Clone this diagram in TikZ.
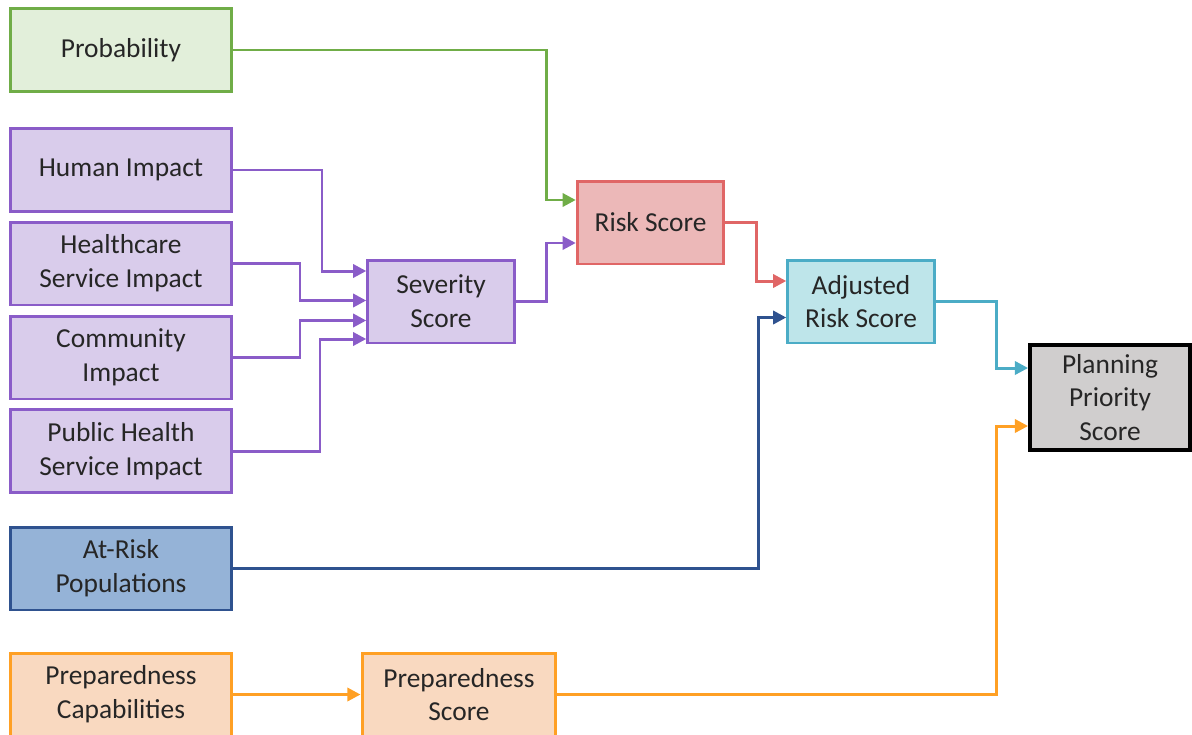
\documentclass[tikz,border=0pt]{standalone}
\usepackage{fontspec}
\setmainfont{Carlito}
\usetikzlibrary{arrows.meta}

\definecolor{txt}{HTML}{262626}
\definecolor{grnF}{HTML}{E2EFDA}\definecolor{grnD}{HTML}{70AD47}
\definecolor{purF}{HTML}{D9CCEB}\definecolor{purD}{HTML}{8A5CC8}
\definecolor{redF}{HTML}{ECB8B8}\definecolor{redD}{HTML}{E06666}
\definecolor{cyaF}{HTML}{BEE5EA}\definecolor{cyaD}{HTML}{4BACC6}
\definecolor{bluF}{HTML}{95B3D7}\definecolor{bluD}{HTML}{2F528F}
\definecolor{ornF}{HTML}{F9D9C0}\definecolor{ornD}{HTML}{FFA024}
\definecolor{gryF}{HTML}{D0CECE}

\tikzset{
  box/.style={draw, line width=1.7pt, align=center, text=txt, inner sep=2pt,
    font=\fontsize{15.6}{19.2}\selectfont},
  side/.style={box, minimum width=4.44cm, minimum height=1.66cm},
  mid/.style={box, minimum width=2.93cm, minimum height=1.66cm},
  greenbox/.style={fill=grnF, draw=grnD},
  purplebox/.style={fill=purF, draw=purD},
  redbox/.style={fill=redF, draw=redD},
  cyanbox/.style={fill=cyaF, draw=cyaD},
  bluebox/.style={fill=bluF, draw=bluD},
  orangebox/.style={fill=ornF, draw=ornD},
  greybox/.style={fill=gryF, draw=black, line width=2.2pt},
  link/.style={line width=1.7pt, -{Triangle[length=7.5pt,width=7.5pt]}},
}

\begin{document}
\begin{tikzpicture}[x=0.02cm, y=-0.02cm]
\useasboundingbox (0,0) rectangle (1192,734);
\clip (0,0) rectangle (1192,734);

% input boxes on the left
\node[side, greenbox]  (prob)  at (121,50)    {Probability};
\node[side, purplebox] (human) at (121,170)   {Human Impact};
\node[side, purplebox] (hcare) at (121,263.5) {Healthcare\\Service Impact};
\node[side, purplebox] (comm)  at (121,357.5) {Community\\Impact};
\node[side, purplebox] (phs)   at (121,451)   {Public Health\\Service Impact};
\node[side, bluebox]   (arp)   at (121,568.5) {At-Risk\\Populations};
\node[side, orangebox] (pcap)  at (121,694.5) {Preparedness\\Capabilities};

% intermediate scores
\node[mid, purplebox] (sev)  at (441,301.5) {Severity\\Score};
\node[mid, redbox]    (risk) at (650.5,222.5) {Risk Score};
\node[mid, cyanbox]   (adj)  at (861,301.5) {Adjusted\\Risk Score};
\node[box, orangebox, minimum width=3.88cm, minimum height=1.66cm] (pscore) at (459,694.5) {Preparedness\\Score};

% final score
\node[box, greybox, minimum width=3.2cm, minimum height=2.1cm] (plan) at (1110,397.5) {Planning\\Priority\\Score};

% severity inputs
\draw[link, purD] (human.east) -| (322,271) -- (sev.west |- 0,271);
\draw[link, purD] (hcare.east) -| (300,300.5) -- (sev.west |- 0,300.5);
\draw[link, purD] (comm.east)  -| (300,320.5) -- (sev.west |- 0,320.5);
\draw[link, purD] (phs.east)   -| (320,339) -- (sev.west |- 0,339);

% risk score inputs
\draw[link, grnD] (prob.east) -| (546,200) -- (risk.west |- 0,200);
\draw[link, purD] (sev.east)  -| (546,243) -- (risk.west |- 0,243);

% adjusted risk inputs
\draw[link, redD] (risk.east) -| (756,281) -- (adj.west |- 0,281);
\draw[link, bluD] (arp.east)  -| (758,317.5) -- (adj.west |- 0,317.5);

% preparedness chain
\draw[link, ornD] (pcap.east) -- (pscore.west);

% planning priority inputs
\draw[link, cyaD] (adj.east)    -| (996.5,368) -- (plan.west |- 0,368);
\draw[link, ornD] (pscore.east) -| (996.5,426) -- (plan.west |- 0,426);
\end{tikzpicture}
\end{document}
